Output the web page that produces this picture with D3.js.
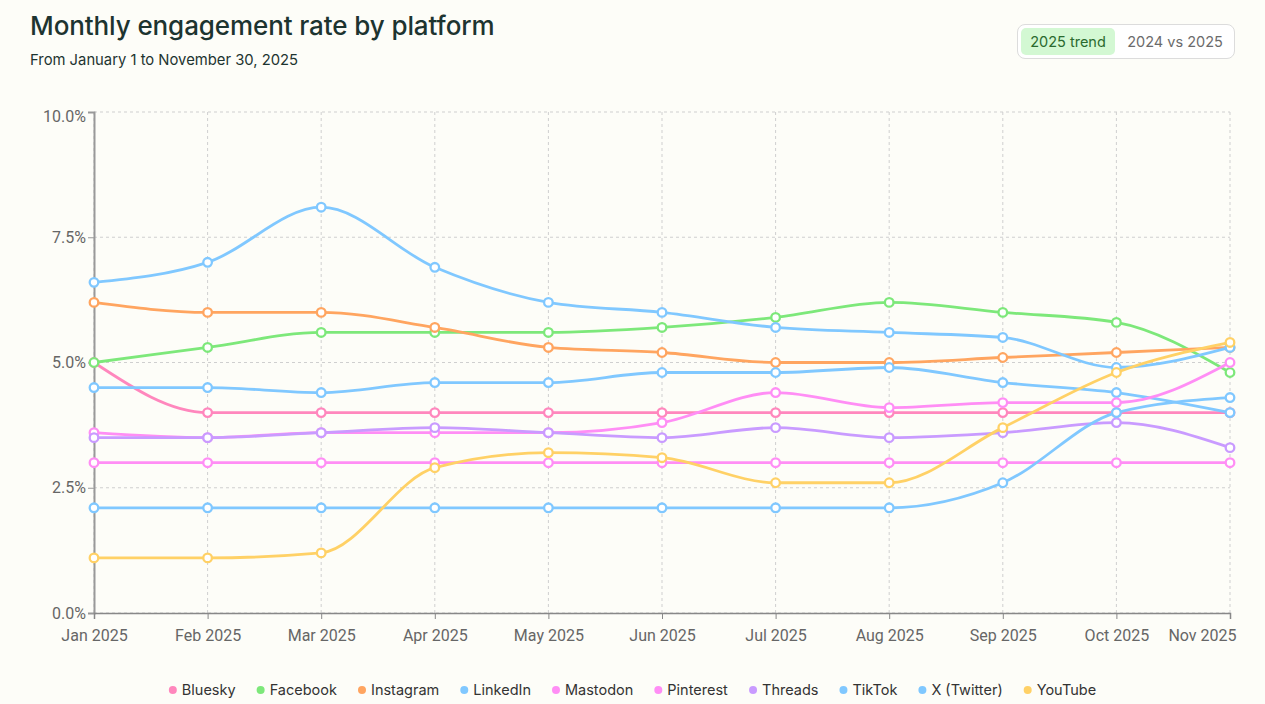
<!DOCTYPE html>
<html>
<head>
<meta charset="utf-8">
<script src="https://cdn.jsdelivr.net/npm/d3@7/dist/d3.min.js"></script>
<style>
  html, body { margin: 0; padding: 0; background: #fdfdf8; }
  body { width: 1265px; height: 704px; overflow: hidden; position: relative; font-family: "Inter", "Lato", sans-serif; }
  .title { position: absolute; left: 30px; top: 10px; font-size: 26px; font-weight: 500; color: #1d3430; letter-spacing: -0.1px; }
  .subtitle { position: absolute; left: 30px; top: 51px; font-size: 14.8px; color: #1d3430; }
  .toggle { position: absolute; left: 1017px; top: 24px; width: 218px; height: 35px; border: 1px solid #dcdcdc; border-radius: 8px; box-sizing: border-box; background: #fff; }
  .toggle .btn { position: absolute; top: 3px; height: 27px; line-height: 27px; font-size: 14.5px; border-radius: 5px; text-align: center; }
  .toggle .on { left: 3px; width: 94px; background: #d3f8d3; color: #2a6a2e; }
  .toggle .off { left: 99px; width: 116px; color: #6b6b6b; }
  svg { position: absolute; left: 0; top: 0; }
  .tick text { font-family: "Roboto", sans-serif; font-size: 16px; fill: #666; }
  .legend text { font-family: "Inter", sans-serif; font-size: 14.5px; fill: #333; }
</style>
</head>
<body>
<div class="title">Monthly engagement rate by platform</div>
<div class="subtitle">From January 1 to November 30, 2025</div>
<div class="toggle"><div class="btn on">2025 trend</div><div class="btn off">2024 vs 2025</div></div>
<svg id="chart" width="1265" height="704"></svg>
<script>
const months = ["Jan 2025","Feb 2025","Mar 2025","Apr 2025","May 2025","Jun 2025","Jul 2025","Aug 2025","Sep 2025","Oct 2025","Nov 2025"];
const yTicks = [0, 2.5, 5, 7.5, 10];

const platforms = ["Bluesky","Facebook","Instagram","LinkedIn","Mastodon","Pinterest","Threads","TikTok","X (Twitter)","YouTube"];
const colors = ["#ff87bd","#7de87a","#ffa560","#80c8ff","#ff8ef5","#ff8ef5","#c99bff","#80c8ff","#80c8ff","#ffd166"];

const bluesky   = [5.0, 4.0, 4.0, 4.0, 4.0, 4.0, 4.0, 4.0, 4.0, 4.0, 4.0];
const facebook  = [5.0, 5.3, 5.6, 5.6, 5.6, 5.7, 5.9, 6.2, 6.0, 5.8, 4.8];
const instagram = [6.2, 6.0, 6.0, 5.7, 5.3, 5.2, 5.0, 5.0, 5.1, 5.2, 5.3];
const linkedin  = [4.5, 4.5, 4.4, 4.6, 4.6, 4.8, 4.8, 4.9, 4.6, 4.4, 4.0];
const mastodon  = [3.0, 3.0, 3.0, 3.0, 3.0, 3.0, 3.0, 3.0, 3.0, 3.0, 3.0];
const pinterest = [3.6, 3.5, 3.6, 3.6, 3.6, 3.8, 4.4, 4.1, 4.2, 4.2, 5.0];
const threads   = [3.5, 3.5, 3.6, 3.7, 3.6, 3.5, 3.7, 3.5, 3.6, 3.8, 3.3];
const tiktok    = [6.6, 7.0, 8.1, 6.9, 6.2, 6.0, 5.7, 5.6, 5.5, 4.9, 5.3];
const xTwitter  = [2.1, 2.1, 2.1, 2.1, 2.1, 2.1, 2.1, 2.1, 2.6, 4.0, 4.3];
const youtube   = [1.1, 1.1, 1.2, 2.9, 3.2, 3.1, 2.6, 2.6, 3.7, 4.8, 5.4];

const seriesValues = [bluesky, facebook, instagram, linkedin, mastodon, pinterest, threads, tiktok, xTwitter, youtube];

const series = platforms.map((name, i) => ({ name, color: colors[i], values: seriesValues[i] }));

const svg = d3.select("#chart");
const mLeft = 94, mRight = 1230, mTop = 112, mBottom = 613;

const x = d3.scalePoint().domain(months).range([mLeft, mRight]);
const y = d3.scaleLinear().domain([0, 10]).range([mBottom, mTop]);

// grid
const grid = svg.append("g");
grid.selectAll(".hg").data(yTicks).join("line")
  .attr("x1", mLeft).attr("x2", mRight)
  .attr("y1", d => y(d)).attr("y2", d => y(d))
  .attr("stroke", "#cfcfcf").attr("stroke-width", 1).attr("stroke-dasharray", "3,3");
grid.selectAll(".vg").data(months).join("line")
  .attr("x1", d => x(d)).attr("x2", d => x(d))
  .attr("y1", mTop).attr("y2", mBottom)
  .attr("stroke", "#cfcfcf").attr("stroke-width", 1).attr("stroke-dasharray", "3,3");

// axes
const yAxis = svg.append("g").attr("transform", `translate(${mLeft},0)`)
  .call(d3.axisLeft(y).tickValues(yTicks).tickFormat(d => d.toFixed(1) + "%").tickSize(6).tickPadding(2));
yAxis.select(".domain").attr("stroke", "#999").attr("stroke-width", 2);
yAxis.selectAll(".tick line").attr("stroke", "#999");
yAxis.selectAll(".tick text").filter(d => d === 10).attr("dy", "0.62em");

const xAxis = svg.append("g").attr("transform", `translate(0,${mBottom})`)
  .call(d3.axisBottom(x).tickSize(6).tickPadding(11));
xAxis.select(".domain").attr("stroke", "#888").attr("stroke-width", 1.5);
xAxis.selectAll(".tick line").attr("stroke", "#888");
xAxis.selectAll(".tick text").filter(d => d === months[months.length - 1])
  .attr("text-anchor", "end").attr("dx", 6);

// lines
const line = d3.line()
  .x((d, i) => x(months[i]))
  .y(d => y(d))
  .curve(d3.curveMonotoneX);

const g = svg.append("g");
series.forEach(s => {
  const sg = g.append("g");
  sg.append("path").datum(s.values)
    .attr("d", line).attr("fill", "none")
    .attr("stroke", s.color).attr("stroke-width", 2.8);
  sg.selectAll("circle").data(s.values).join("circle")
    .attr("cx", (d, i) => x(months[i])).attr("cy", d => y(d))
    .attr("r", 4.3).attr("fill", "#fff")
    .attr("stroke", s.color).attr("stroke-width", 2.3);
});

// legend
const legend = svg.append("g").attr("class", "legend");
let lx = 0;
const gap = 21;
const items = legend.selectAll("g").data(series).join("g");
items.append("circle").attr("r", 4).attr("cx", 4).attr("cy", 0).attr("fill", d => d.color);
items.append("text").attr("x", 13).attr("y", 5).text(d => d.name);
items.each(function() {
  const w = this.getBBox().width;
  d3.select(this).attr("transform", `translate(${lx},690)`);
  lx += w + gap;
});
const totalW = lx - gap;
legend.attr("transform", `translate(${(1265 - totalW) / 2},0)`);
</script>
</body>
</html>
